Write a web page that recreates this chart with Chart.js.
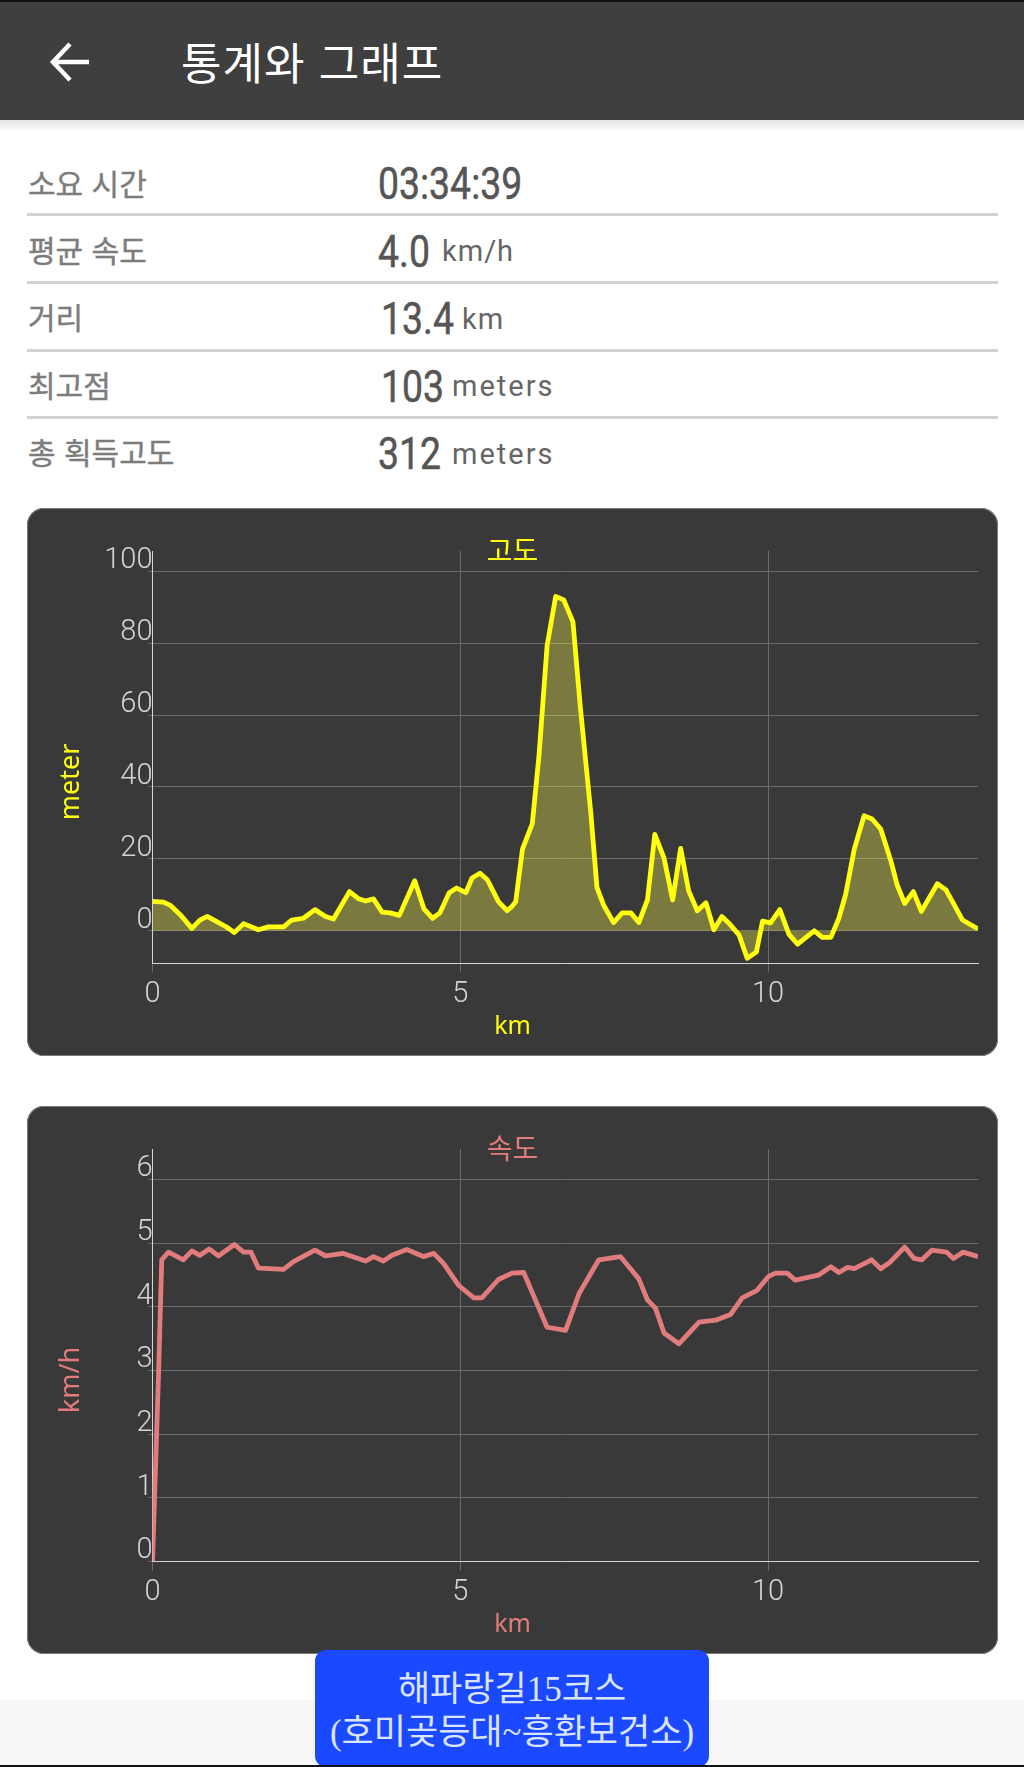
<!DOCTYPE html>
<html lang="ko">
<head>
<meta charset="utf-8">
<title>통계와 그래프</title>
<script src="https://cdn.jsdelivr.net/npm/chart.js@4"></script>
<style>
  html, body { margin: 0; padding: 0; background: #fff; }
  body { position: relative; width: 1024px; height: 1767px; overflow: hidden; font-family: 'Noto Sans CJK KR', sans-serif; }
  .abs { position: absolute; white-space: nowrap; line-height: 1; }
  #topline { left: 0; top: 0; width: 1024px; height: 2px; background: #111; z-index: 3; }
  #header { left: 0; top: 0; width: 1024px; height: 120px; background: #3f3f3f; }
  #shadow { left: 0; top: 120px; width: 1024px; height: 12px; background: linear-gradient(#e4e4e4, #fff); }
  #back { left: 48px; top: 40px; }
  #heading { left: 181px; top: 33px; font-size: 44px; line-height: 56px; color: #fff; letter-spacing: 1px; }
  .label { left: 28px; font-size: 30px; line-height: 36px; color: #7c7c7c; -webkit-text-stroke: 0.4px #7c7c7c; }
  .value { font-family: Roboto, sans-serif; font-size: 44px; line-height: 48px; color: #555; -webkit-text-stroke: 0.5px #555; transform: scaleX(0.85); transform-origin: left center; }
  .unit { font-family: Roboto, sans-serif; font-size: 29px; line-height: 36px; color: #666; letter-spacing: 1px; }
  .unit.wide { letter-spacing: 2px; }
  .rule { left: 27px; width: 971px; height: 3px; background: #d2d2d2; }
  .card { position: absolute; left: 27px; width: 971px; height: 548px; background: #393939; border-radius: 17px; box-shadow: inset 0 0 0 1px #7a7a7a; }
  .card canvas { display: block; }
  #bottomstrip { left: 0; top: 1700px; width: 1024px; height: 67px; background: #f8f8f8; }
  #bottomline { left: 0; top: 1765px; width: 1024px; height: 2px; background: #111; z-index: 3; }
  #badge { left: 315px; top: 1650px; width: 394px; height: 117px; background: #1a49ff; border-radius: 11px; color: #dbe4ff; text-align: center; font-family: 'Liberation Serif', 'Noto Sans CJK KR', serif; font-size: 35px; line-height: 43px; padding-top: 18px; box-sizing: border-box; z-index: 2; white-space: nowrap; }
</style>
</head>
<body>
<div class="abs" id="header"></div>
<div class="abs" id="topline"></div>
<div class="abs" id="shadow"></div>
<svg class="abs" id="back" width="46" height="44" viewBox="0 0 46 44"><path d="M41 22H6M22 4 5 22l17 18" fill="none" stroke="#fff" stroke-width="4.5"/></svg>
<div class="abs" id="heading">통계와 그래프</div>

<div class="abs label" style="top:164px">소요 시간</div>
<div class="abs value" style="left:378px;top:160px">03:34:39</div>
<div class="abs rule" style="top:213px"></div>
<div class="abs label" style="top:231px">평균 속도</div>
<div class="abs value" style="left:378px;top:228px">4.0</div>
<div class="abs unit" style="left:442px;top:233px">km/h</div>
<div class="abs rule" style="top:281px"></div>
<div class="abs label" style="top:298px">거리</div>
<div class="abs value" style="left:381px;top:295px">13.4</div>
<div class="abs unit" style="left:462px;top:301px">km</div>
<div class="abs rule" style="top:349px"></div>
<div class="abs label" style="top:366px">최고점</div>
<div class="abs value" style="left:381px;top:363px">103</div>
<div class="abs unit wide" style="left:452px;top:368px">meters</div>
<div class="abs rule" style="top:416px"></div>
<div class="abs label" style="top:433px">총 획득고도</div>
<div class="abs value" style="left:378px;top:430px">312</div>
<div class="abs unit wide" style="left:452px;top:436px">meters</div>

<div class="card" style="top:508px"><canvas id="elevationChart" width="971" height="548"></canvas></div>
<div class="card" style="top:1106px"><canvas id="speedChart" width="971" height="548"></canvas></div>

<div class="abs" id="bottomstrip"></div>
<div class="abs" id="bottomline"></div>
<div class="abs" id="badge">해파랑길15코스<br>(호미곶등대~흥환보건소)</div>

<script>
// Values
const elevationKm = [0, 0.18, 0.29, 0.45, 0.64, 0.77, 0.89, 1.05, 1.21, 1.33, 1.48, 1.72, 1.88, 2.13, 2.26, 2.45, 2.64, 2.81, 2.94, 3.2, 3.35, 3.46, 3.59, 3.73, 3.86, 4.01, 4.26, 4.41, 4.55, 4.67, 4.82, 4.94, 5.09, 5.19, 5.32, 5.44, 5.62, 5.76, 5.84, 5.9, 6.01, 6.17, 6.28, 6.41, 6.55, 6.68, 6.83, 6.95, 7.12, 7.22, 7.33, 7.49, 7.63, 7.77, 7.9, 8.04, 8.16, 8.31, 8.45, 8.58, 8.71, 8.85, 8.99, 9.12, 9.25, 9.36, 9.53, 9.66, 9.81, 9.91, 10.04, 10.19, 10.34, 10.48, 10.75, 10.88, 11.02, 11.15, 11.26, 11.4, 11.56, 11.69, 11.83, 11.99, 12.1, 12.22, 12.36, 12.49, 12.75, 12.89, 13.16, 13.41];
const elevationM = [8.2, 8, 7.1, 4.5, 0.7, 3, 4, 2.5, 1, -0.5, 2, 0.3, 1.1, 1.1, 3, 3.5, 5.9, 4, 3.3, 10.9, 8.9, 8.3, 8.9, 5.2, 5, 4.3, 13.9, 6.1, 3.5, 5, 10.6, 11.9, 10.6, 14.7, 16, 14.2, 8.1, 5.6, 6.8, 8.1, 22.7, 29.8, 49, 79.3, 93, 92, 85.9, 62.2, 32.8, 12.1, 7.1, 2.3, 5, 5, 2.3, 8.6, 26.8, 20.2, 8.6, 22.9, 11.1, 5.6, 7.8, 0.3, 4, 2.2, -1.2, -7.6, -5.9, 2.7, 2.2, 5.9, -1, -3.7, 0, -1.8, -1.8, 3.5, 10.1, 22.7, 32, 31.1, 28.3, 19.7, 12.6, 7.6, 10.9, 5.4, 13.1, 11.4, 3, 0.5];
const speedKm = [0, 0.05, 0.1, 0.15, 0.26, 0.5, 0.64, 0.77, 0.92, 1.07, 1.33, 1.48, 1.6, 1.72, 2.13, 2.29, 2.64, 2.81, 3.1, 3.46, 3.59, 3.75, 3.89, 4.13, 4.4, 4.57, 4.73, 4.97, 5.22, 5.35, 5.62, 5.84, 6.03, 6.22, 6.41, 6.71, 6.93, 7.25, 7.6, 7.9, 8.04, 8.17, 8.31, 8.55, 8.88, 9.15, 9.39, 9.58, 9.82, 10.01, 10.12, 10.31, 10.44, 10.82, 11.02, 11.15, 11.29, 11.4, 11.68, 11.83, 11.99, 12.22, 12.37, 12.5, 12.66, 12.9, 13.01, 13.17, 13.41];
const speedKmh = [0, 1.5, 3, 4.74, 4.86, 4.74, 4.88, 4.81, 4.91, 4.8, 4.98, 4.86, 4.86, 4.61, 4.59, 4.71, 4.89, 4.8, 4.84, 4.72, 4.79, 4.72, 4.81, 4.9, 4.79, 4.84, 4.68, 4.34, 4.14, 4.14, 4.43, 4.53, 4.54, 4.11, 3.68, 3.63, 4.21, 4.74, 4.79, 4.44, 4.11, 3.98, 3.59, 3.42, 3.76, 3.79, 3.88, 4.14, 4.26, 4.48, 4.53, 4.53, 4.42, 4.5, 4.63, 4.54, 4.62, 4.6, 4.74, 4.6, 4.71, 4.94, 4.76, 4.74, 4.89, 4.86, 4.76, 4.86, 4.79];

const kmTicks = [0, 5, 10];
const elevationTicks = [0, 20, 40, 60, 80, 100];
const speedTicks = [0, 1, 2, 3, 4, 5, 6];

const GRID_COLOR = '#6b6b6b';
const AXIS_COLOR = '#d4d4d4';
const TICK_FONT = { family: "Roboto, sans-serif", size: 29, weight: '300' };

// y axis title sits on the card centre, not on the scale centre
const sideLabel = {
  id: 'sideLabel',
  afterDraw(chart, args, opts) {
    const ctx = chart.ctx;
    ctx.save();
    ctx.translate(44, chart.height / 2);
    ctx.rotate(-Math.PI / 2);
    ctx.font = "27px 'Noto Sans', sans-serif";
    ctx.fillStyle = opts.color;
    ctx.textAlign = 'center';
    ctx.textBaseline = 'middle';
    ctx.fillText(opts.text, 0, 0);
    ctx.restore();
  }
};

function renderChart(id, cfg) {
  return new Chart(document.getElementById(id), {
    type: 'line',
    plugins: [sideLabel],
    data: {
      datasets: [{
        data: cfg.xs.map((x, i) => ({ x: x, y: cfg.ys[i] })),
        borderColor: cfg.color,
        borderWidth: 4.8,
        borderJoinStyle: 'round',
        backgroundColor: cfg.fillColor || 'transparent',
        fill: cfg.fillColor ? { value: 0 } : false,
        pointRadius: 0,
        tension: 0
      }]
    },
    options: {
      responsive: false,
      animation: false,
      plugins: {
        legend: { display: false },
        tooltip: { enabled: false },
        title: {
          display: true,
          text: cfg.title,
          color: cfg.color,
          font: { family: "'Noto Sans CJK KR', sans-serif", size: 28, weight: 'normal', lineHeight: 1.2 },
          padding: { top: 26, bottom: -16.6 }
        },
        subtitle: {
          display: true,
          position: 'bottom',
          text: 'km',
          color: cfg.color,
          font: { family: "'Noto Sans', sans-serif", size: 25, weight: 'normal', lineHeight: 1.2 },
          padding: { top: 4, bottom: 14 }
        },
        sideLabel: { text: cfg.yTitle, color: cfg.color }
      },
      scales: {
        x: {
          type: 'linear',
          min: 0,
          max: 13.41,
          afterBuildTicks(scale) { scale.ticks = kmTicks.map(value => ({ value })); },
          // right padding keeps the plot off the card edge while the titles stay on the card centre
          afterFit(scale) { scale.height = 44.5; scale.paddingLeft = 0; scale.paddingRight = 20; },
          grid: { color: GRID_COLOR, tickLength: 9, lineWidth: 1 },
          border: { color: AXIS_COLOR, width: 1 },
          ticks: { color: AXIS_COLOR, font: TICK_FONT, padding: 5, maxRotation: 0, autoSkip: false }
        },
        y: {
          min: cfg.yMin,
          max: cfg.yMax,
          afterBuildTicks(scale) { scale.ticks = cfg.yTicks.map(value => ({ value })); },
          afterFit(scale) { scale.width = 125.5; scale.paddingTop = 0; scale.paddingBottom = 0; },
          grid: { color: GRID_COLOR, tickLength: 4, lineWidth: 1 },
          border: { color: AXIS_COLOR, width: 1 },
          ticks: {
            color: AXIS_COLOR,
            font: Object.assign({}, TICK_FONT, { lineHeight: '21px' }),
            padding: -4,
            autoSkip: false,
            // the empty second line lifts the number above its grid line
            callback: value => [String(value), '']
          }
        }
      }
    }
  });
}

renderChart('elevationChart', {
  xs: elevationKm, ys: elevationM, title: '고도', yTitle: 'meter',
  color: '#ffff0f', fillColor: 'rgba(255, 255, 78, 0.33)',
  yMin: -9.08, yMax: 105.6, yTicks: elevationTicks
});

renderChart('speedChart', {
  xs: speedKm, ys: speedKmh, title: '속도', yTitle: 'km/h',
  color: '#e27c7c',
  yMin: 0, yMax: 6.48, yTicks: speedTicks
});
</script>
</body>
</html>
